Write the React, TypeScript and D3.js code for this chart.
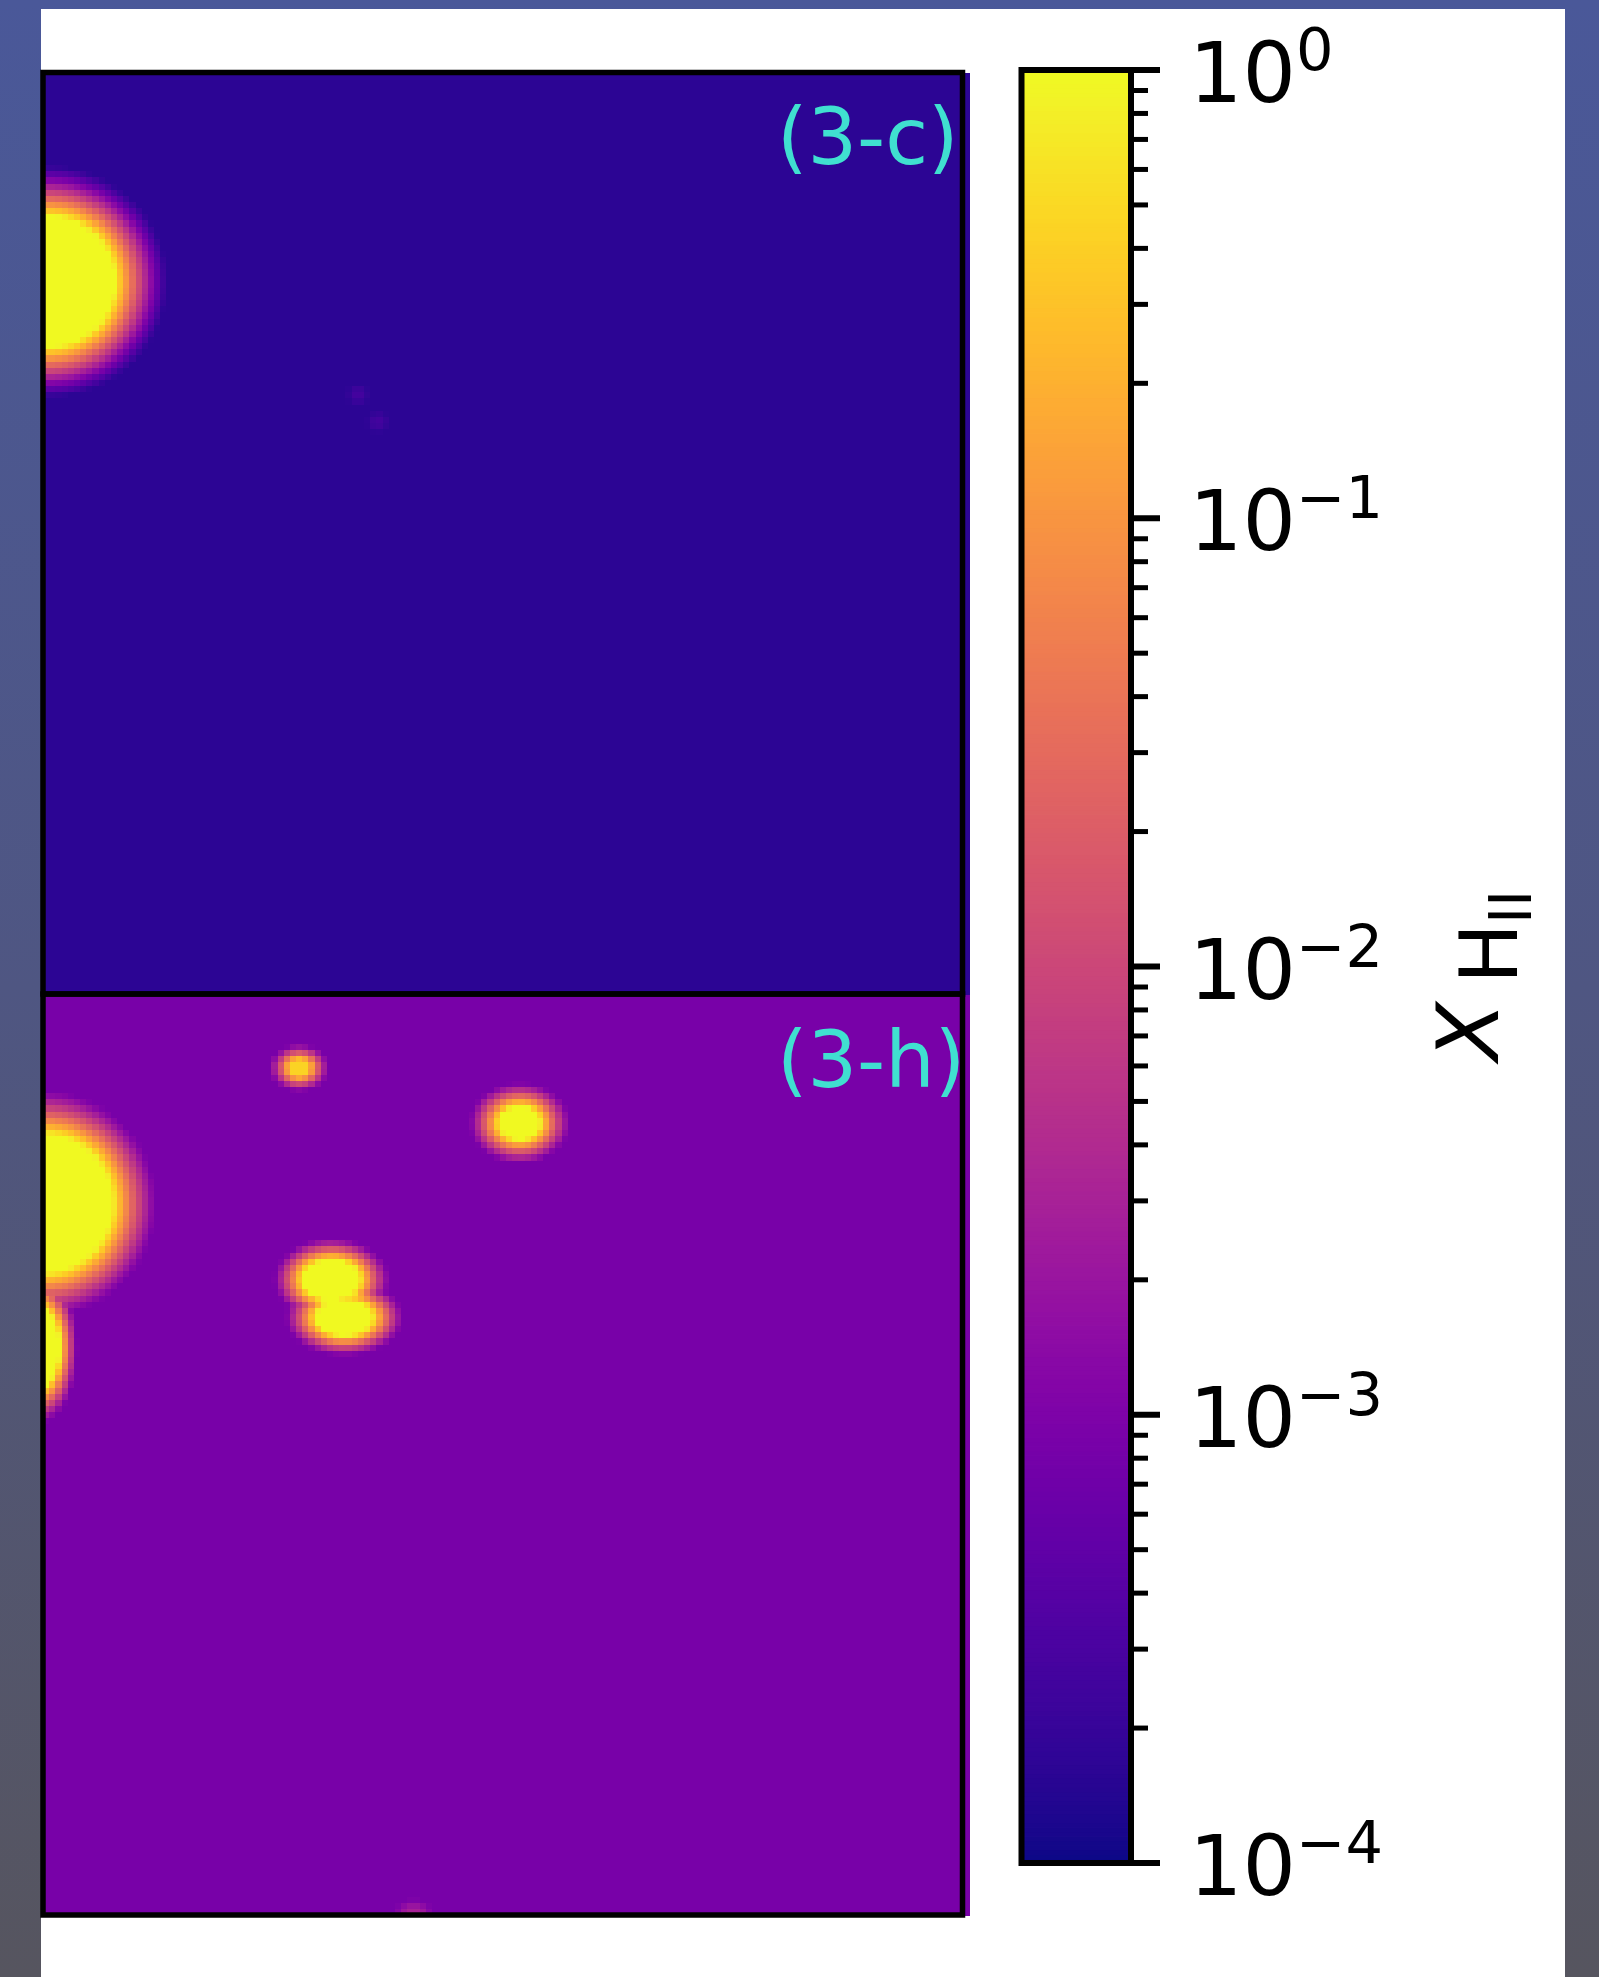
import React, { useEffect, useRef } from 'react';
import * as d3 from 'd3';

// ionised fraction maps, sampled on a 150 x 150 grid per panel
const gridSize = 150;
const panelNames = ['(3-c)', '(3-h)'];
const panelBackground = [1.6e-4, 8.7e-4];

// ionised bubbles, grid units: [cx, cy, rx, ry, peak x_HII, fringe width]
const bubblesC = [
  [0.6, 34.0, 11.0, 10.6, 1, 8.5],
  [51, 52.4, 0.6, 0.6, 2.6e-4, 1.5],
  [54.2, 56.8, 0.6, 0.6, 2.6e-4, 1.5],
];
const bubblesH = [
  [0, 34.0, 11.2, 11.2, 1, 7.2],
  [-0.6, 57.5, 3.2, 6.4, 1, 4.5],
  [41.5, 11.9, 1.5, 1.2, 0.45, 3],
  [77.2, 20.9, 3.2, 2.6, 1, 4.5],
  [46.7, 46.4, 4.5, 3.2, 1, 4.2],
  [48.8, 52.6, 4.5, 2.9, 1, 4.2],
  [60, 150, 1.2, 1, 3e-3, 2],
];
const panelBubbles = [bubblesC, bubblesH];

const cbarMajor = [1, 1e-1, 1e-2, 1e-3, 1e-4];
const cbarExponent = ['0', '\u22121', '\u22122', '\u22123', '\u22124'];

const W = 1599;
const H = 1977;
const FONT = 'DejaVu Sans, sans-serif';

function fieldAt(gx, gy, bg, bubbles) {
  const lb = Math.log10(bg);
  let best = lb;
  for (const [cx, cy, rx, ry, peak, fr] of bubbles) {
    const d = Math.hypot((gx - cx) / rx, (gy - cy) / ry);
    const e = (d - 1) * (rx + ry) / 2;
    const s = e <= 0 ? 1 : Math.pow(Math.max(0, 1 - e / fr), 1.2);
    const lv = lb + (Math.log10(peak) - lb) * s;
    if (lv > best) best = lv;
  }
  return Math.pow(10, best);
}

export default function App() {
  const svgRef = useRef(null);

  useEffect(() => {
    const svg = d3.select(svgRef.current);
    svg.selectAll('*').remove();

    const color = d3.scaleSequentialLog(d3.interpolatePlasma).domain([1e-4, 1]).clamp(true);

    // page background + white canvas
    const defs = svg.append('defs');
    const grad = defs.append('linearGradient').attr('id', 'bg').attr('x1', 0).attr('y1', 0).attr('x2', 0).attr('y2', 1);
    grad.append('stop').attr('offset', '0%').attr('stop-color', '#4a5899');
    grad.append('stop').attr('offset', '50%').attr('stop-color', '#4f5682');
    grad.append('stop').attr('offset', '100%').attr('stop-color', '#56555f');
    svg.append('rect').attr('width', W).attr('height', H).attr('fill', 'url(#bg)');
    svg.append('rect').attr('x', 41).attr('y', 9).attr('width', 1524).attr('height', H - 9).attr('fill', '#fff');

    // panels
    const x = d3.scaleLinear().domain([0, gridSize]).range([43, 969]);
    const panelRanges = [[73, 994], [995, 1915]];
    const cw = (x(1) - x(0));
    const idx = d3.range(gridSize);

    panelRanges.forEach((yr, p) => {
      const y = d3.scaleLinear().domain([0, gridSize]).range(yr);
      const ch = y(1) - y(0);
      const cells = [];
      idx.forEach((j) => idx.forEach((i) => {
        cells.push({ i, j, v: fieldAt(i + 0.5, j + 0.5, panelBackground[p], panelBubbles[p]) });
      }));
      svg.append('g')
        .attr('shape-rendering', 'crispEdges')
        .selectAll('rect')
        .data(cells)
        .join('rect')
        .attr('x', (d) => x(d.i))
        .attr('y', (d) => y(d.j))
        .attr('width', cw + 0.6)
        .attr('height', ch + 0.6)
        .attr('fill', (d) => color(d.v));

      svg.append('text')
        .attr('x', 777)
        .attr('y', p === 0 ? 164 : 1087)
        .attr('font-family', FONT)
        .attr('font-size', 78)
        .attr('fill', '#40e0d0')
        .text(panelNames[p]);
    });

    // frames
    const frame = svg.append('g').attr('fill', 'none').attr('stroke', '#000').attr('stroke-width', 5.5);
    frame.append('rect').attr('x', 43).attr('y', 72.5).attr('width', 919.5).attr('height', 921.5);
    frame.append('rect').attr('x', 43).attr('y', 994).attr('width', 919.5).attr('height', 921);

    // colorbar
    const cy = d3.scaleLog().domain([1e-4, 1]).range([1863, 70]);
    const steps = d3.range(0, 401).map((k) => Math.pow(10, -4 + (4 * k) / 400));
    svg.append('g')
      .selectAll('rect')
      .data(steps.slice(0, -1))
      .join('rect')
      .attr('x', 1021.5)
      .attr('width', 109.5)
      .attr('y', (d, k) => cy(steps[k + 1]))
      .attr('height', (d, k) => cy(d) - cy(steps[k + 1]) + 0.8)
      .attr('fill', (d, k) => color(Math.sqrt(d * steps[k + 1])));

    svg.append('rect')
      .attr('x', 1021.5).attr('y', 70).attr('width', 109.5).attr('height', 1793)
      .attr('fill', 'none').attr('stroke', '#000').attr('stroke-width', 6);

    const ticks = cy.ticks();
    svg.append('g')
      .selectAll('line')
      .data(ticks)
      .join('line')
      .attr('x1', 1131)
      .attr('x2', (d) => (cbarMajor.includes(d) ? 1160 : 1148))
      .attr('y1', (d) => cy(d))
      .attr('y2', (d) => cy(d))
      .attr('stroke', '#000')
      .attr('stroke-width', (d) => (cbarMajor.includes(d) ? 6 : 5));

    const labels = svg.append('g').attr('font-family', FONT).attr('fill', '#000');
    cbarMajor.forEach((v, k) => {
      const base = cy(v) + 32;
      labels.append('text').attr('x', 1189).attr('y', base).attr('font-size', 84).text('10');
      labels.append('text').attr('x', 1296).attr('y', base - 32).attr('font-size', 59).text(cbarExponent[k]);
    });

    // colorbar title X_{H_II}
    const title = svg.append('g').attr('font-family', FONT).attr('fill', '#000');
    title.append('text').attr('transform', 'translate(1498,1061) rotate(-90)').attr('font-size', 86).attr('font-style', 'italic').text('X');
    title.append('text').attr('transform', 'translate(1517,984) rotate(-90)').attr('font-size', 81).text('H');
    title.append('text').attr('transform', 'translate(1531,924) rotate(-90)').attr('font-size', 58).text('II');
  }, []);

  return (
    <div style={{ position: 'absolute', left: 0, top: 0 }}>
      <svg ref={svgRef} width={W} height={H} style={{ display: 'block' }} />
    </div>
  );
}
